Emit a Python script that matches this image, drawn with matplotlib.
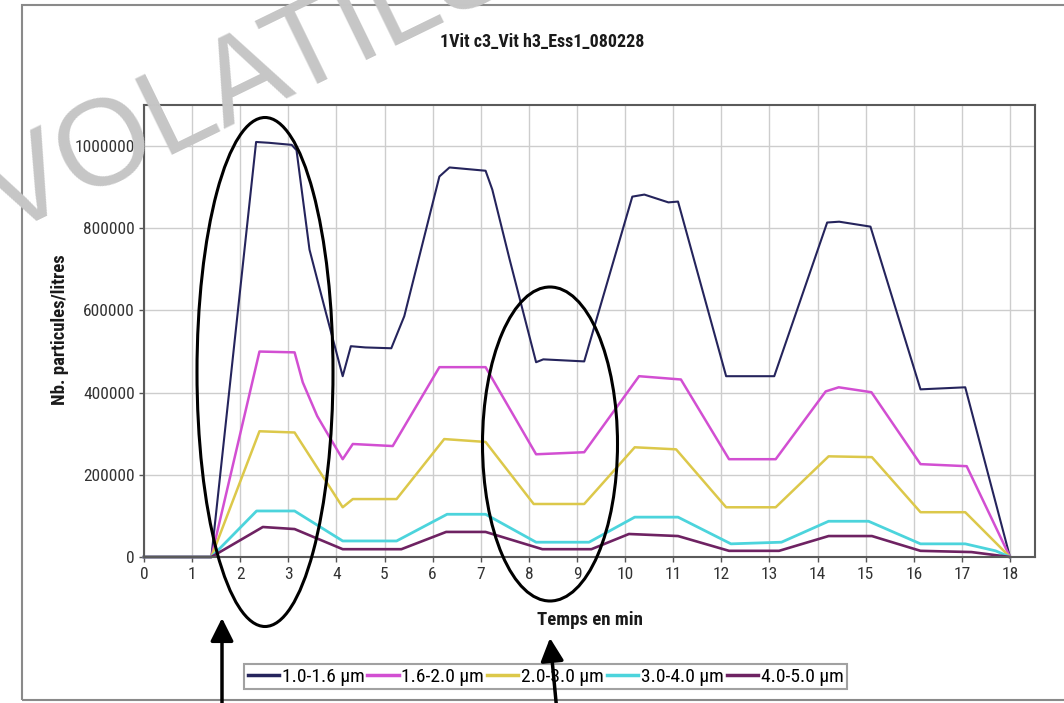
import matplotlib
matplotlib.use("Agg")
import matplotlib.pyplot as plt
from matplotlib.patches import Ellipse, Rectangle, FancyArrowPatch
from matplotlib.lines import Line2D
from matplotlib import font_manager

W, H = 1064, 703

title = "1Vit c3_Vit h3_Ess1_080228"
x_label = "Temps en min"
y_label = "Nb. particules/litres"
series_labels = ["1.0-1.6 µm", "1.6-2.0 µm", "2.0-3.0 µm", "3.0-4.0 µm", "4.0-5.0 µm"]
x_ticks = list(range(0, 19))
y_ticks = [0, 200000, 400000, 600000, 800000, 1000000]
watermark = "VOLATILS"

t_10_16 = [0, 1.4, 2.33, 2.6, 3.07, 3.17, 3.44, 3.78, 4.13, 4.3, 4.6, 5.14, 5.41, 6.14, 6.35,
           7.1, 7.24, 7.6, 8.15, 8.3, 9.15, 10.15, 10.4, 10.9, 11.1, 12.1, 13.1, 14.2, 14.45,
           15.1, 16.14, 17.07, 18.0]
v_10_16 = [0, 0, 1010000, 1008000, 1003000, 990000, 748000, 595000, 440000, 513000, 510000,
           508000, 586000, 926000, 948000, 940000, 894000, 724000, 474000, 481000, 476000,
           877000, 882000, 863000, 865000, 440000, 440000, 814000, 816000, 804000, 408000,
           413000, 0]

t_16_20 = [0, 1.4, 2.4, 3.13, 3.3, 3.6, 3.8, 4.13, 4.34, 5.17, 6.14, 7.1, 8.15, 9.15, 10.29,
           11.16, 12.16, 13.13, 14.17, 14.44, 15.12, 16.14, 17.1, 18.0]
v_16_20 = [0, 0, 500000, 498000, 425000, 343000, 303000, 238000, 275000, 270000, 462000,
           462000, 250000, 255000, 440000, 432000, 238000, 238000, 403000, 413000, 401000,
           226000, 221000, 0]

t_20_30 = [0, 1.4, 2.4, 3.13, 4.13, 4.34, 5.25, 6.24, 7.1, 8.1, 9.15, 10.2, 11.06, 12.1,
           13.13, 14.23, 15.13, 16.14, 17.07, 18.0]
v_20_30 = [0, 0, 306000, 303000, 121000, 141000, 141000, 287000, 280000, 129000, 129000,
           267000, 262000, 121000, 121000, 245000, 243000, 109000, 109000, 0]

t_30_40 = [0, 1.4, 2.34, 3.13, 4.13, 5.25, 6.3, 7.1, 8.15, 9.25, 10.2, 11.1, 12.2, 13.25,
           14.23, 15.06, 16.14, 17.07, 17.7, 18.0]
v_30_40 = [0, 0, 112000, 112000, 39000, 39000, 104000, 104000, 36000, 36000, 97000, 97000,
           32000, 36000, 87000, 87000, 32000, 32000, 15000, 0]

t_40_50 = [0, 1.4, 2.47, 3.13, 4.13, 5.35, 6.28, 7.1, 8.28, 9.3, 10.08, 11.1, 12.16, 13.2,
           14.23, 15.13, 16.14, 17.2, 18.0]
v_40_50 = [0, 0, 73000, 68000, 19000, 19000, 61000, 61000, 19000, 19000, 56000, 51000,
           15000, 15000, 51000, 51000, 15000, 12000, 0]

series_t = [t_10_16, t_16_20, t_20_30, t_30_40, t_40_50]
series_v = [v_10_16, v_16_20, v_20_30, v_30_40, v_40_50]
colors = ["#25245c", "#d24fd2", "#dcc84a", "#4cd4dc", "#6e2262"]
widths = [1.5, 1.8, 1.8, 2.0, 1.9]

installed = {f.name for f in font_manager.fontManager.ttflist}
narrow = [f for f in ["Liberation Sans Narrow", "Roboto Condensed", "DejaVu Sans Condensed",
                      "Open Sans Condensed"] if f in installed]
plt.rcParams["font.family"] = narrow + ["Liberation Sans", "DejaVu Sans"]
k = 1.0 if narrow else 0.85

fig = plt.figure(figsize=(W / 100, H / 100), dpi=100)
fig.patch.set_facecolor("white")

ax = fig.add_axes([144 / W, 1 - 557 / H, (1035 - 144) / W, (557 - 105) / H])
for t, v, c, lw, lab in zip(series_t, series_v, colors, widths, series_labels):
    ax.plot(t, v, color=c, lw=lw, label=lab, solid_joinstyle="round", clip_on=False)

ax.set_xlim(0, 18.52)
ax.set_ylim(0, 1100000)
ax.set_xticks(x_ticks)
ax.set_xticklabels([str(x) for x in x_ticks])
ax.set_yticks(y_ticks)
ax.set_yticklabels([str(y) for y in y_ticks])
ax.grid(True, color="#cdcdcd", lw=1.0)
ax.set_axisbelow(True)
for s in ax.spines.values():
    s.set_color("#5a5a5a")
    s.set_linewidth(1.5)
ax.tick_params(direction="out", length=3.5, width=1, color="#555555",
               labelsize=12.5 * k, labelcolor="#333333", pad=3)
ax.tick_params(axis="x", pad=4)

fig.text(542 / W, 1 - 42 / H, title, ha="center", va="center", fontsize=13 * k,
         fontweight="bold", color="#1a1a1a")
fig.text(590 / W, 1 - 620 / H, x_label, ha="center", va="center", fontsize=13.5 * k,
         fontweight="bold", color="#1a1a1a")
fig.text(60 / W, 1 - 330 / H, y_label, ha="center", va="center", rotation=90,
         fontsize=13.5 * k, fontweight="bold", color="#1a1a1a")

handles = [Line2D([0], [0], color=c, lw=2.5) for c in colors]
leg = fig.legend(handles, series_labels, loc="center",
                 bbox_to_anchor=(545.5 / W, 1 - 676.5 / H), ncol=5, frameon=True,
                 fancybox=False, edgecolor="#8a8a8a", fontsize=14 * k, handlelength=1.6,
                 handletextpad=0.15, columnspacing=0.15, borderpad=0.2)
leg.get_frame().set_linewidth(1.5)

# outer chart border
fig.add_artist(Rectangle((22 / W, 1 - 700 / H), (1080 - 22) / W, (700 - 5) / H,
                         transform=fig.transFigure, fill=False, ec="#8a8a8a", lw=1.5,
                         clip_on=False, zorder=1))

# hand-drawn ellipses
fig.add_artist(Ellipse((265 / W, 1 - 372 / H), 136 / W, 509 / H, transform=fig.transFigure,
                       fill=False, ec="black", lw=2.2, zorder=10))
fig.add_artist(Ellipse((550 / W, 1 - 444 / H), 135 / W, 314 / H, transform=fig.transFigure,
                       fill=False, ec="black", lw=2.2, zorder=10))

# arrows
for (x0, y0), (x1, y1) in [((222, 712), (222, 618)), ((557, 712), (550, 638))]:
    fig.add_artist(FancyArrowPatch((x0 / W, 1 - y0 / H), (x1 / W, 1 - y1 / H),
                                   transform=fig.transFigure,
                                   arrowstyle="-|>,head_length=14,head_width=7",
                                   mutation_scale=1, color="black", lw=2.5,
                                   shrinkA=0, shrinkB=0, zorder=11))

# watermark
fig.text(5 / W, 1 - 236 / H, watermark, rotation=26, rotation_mode="anchor", ha="left",
         va="baseline", fontsize=88, color="#c6c6c6", family="Liberation Sans", zorder=20)

fig.savefig("out.png", dpi=100)
